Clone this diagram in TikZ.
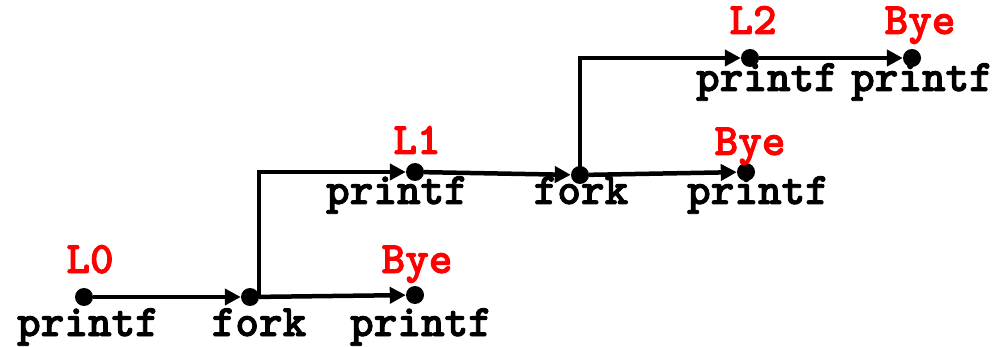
\documentclass[tikz,border=0pt]{standalone}
\usepackage{fontspec}
\newfontfamily\codefont{lmmonolt10-bold}[Extension=.otf,FakeBold=2]
\usetikzlibrary{arrows.meta}
\definecolor{labelred}{RGB}{255,0,0}
\begin{document}
\begin{tikzpicture}[x=1pt,y=-1pt,
  event/.style={circle,fill=black,inner sep=0pt,minimum size=18pt},
  call/.style={font=\codefont\fontsize{45}{45}\selectfont,anchor=base,inner sep=0pt},
  tag/.style={call,text=labelred},
  flow/.style={line width=4.5pt,-{Triangle[length=16pt,width=16pt]}},
  ]
\useasboundingbox (0,0) rectangle (1006,347);

% process events
\node[event] (p0) at (84,297) {};
\node[event] (f0) at (250,297) {};
\node[event] (b0) at (415,295) {};
\node[event] (p1) at (415,172) {};
\node[event] (f1) at (580,175) {};
\node[event] (b1) at (746,172) {};
\node[event] (p2) at (750,58) {};
\node[event] (b2) at (912,58) {};

% printed strings
\node[tag] (tL0) at (90,273) {L0};
\node[tag] (tB0) at (417,273) {Bye};
\node[tag] (tL1) at (417,154) {L1};
\node[tag] (tB1) at (750,155) {Bye};
\node[tag] (tL2) at (753,34) {L2};
\node[tag] (tB2) at (920,34) {Bye};

% calls
\node[call] (cp0) at (88,336) {printf};
\node[call] (cf0) at (259,336) {fork};
\node[call] (cb0) at (421,336) {printf};
\node[call] (cp1) at (397,204) {printf};
\node[call] (cf1) at (581,204) {fork};
\node[call] (cb1) at (758,204) {printf};
\node[call] (cp2) at (767,91) {printf};
\node[call] (cb2) at (922,91) {printf};

% control flow
\draw[flow] (p0) -- (f0);
\draw[flow] (f0) -- (b0);
\draw[flow] ([xshift=9pt]f0.center) |- (p1);
\draw[flow] (p1) -- (f1);
\draw[flow] (f1) -- (b1);
\draw[flow] (f1.center) |- (p2);
\draw[flow] (p2) -- (b2);
\end{tikzpicture}
\end{document}
